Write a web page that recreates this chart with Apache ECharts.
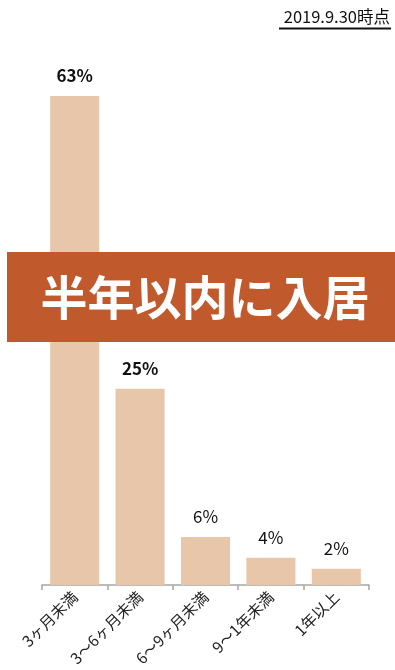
<!DOCTYPE html>
<html><head><meta charset="utf-8">
<script src="https://cdn.jsdelivr.net/npm/echarts@6/dist/echarts.min.js"></script>
<style>html,body{margin:0;padding:0;background:#fff;}#c{width:395px;height:670px;}</style>
</head><body><div id="c"></div>
<script>
const categories = ['3ヶ月未満', '3～6ヶ月未満', '6～9ヶ月未満', '9～1年未満', '1年以上'];
const values = [63, 25.3, 6.2, 3.5, 2.1];
const labelTexts = ['63%', '25%', '6%', '4%', '2%'];
const boldLabels = [true, true, false, false, false];
const bannerText = '半年以内に入居';
const dateText = '2019.9.30時点';

const font = '"Noto Sans CJK JP", "Noto Sans", sans-serif';
const chart = echarts.init(document.getElementById('c'));
chart.setOption({
  animation: false,
  textStyle: { fontFamily: font },
  grid: { left: 42, right: 26, top: 41.7, bottom: 85 },
  xAxis: {
    type: 'category',
    data: categories,
    axisLine: { lineStyle: { color: '#A6A6A6', width: 1.5 } },
    axisTick: { show: true, length: 5, lineStyle: { color: '#A6A6A6', width: 1.5 } },
    axisLabel: { rotate: 45, color: '#222', fontSize: 15.5, fontFamily: font, margin: 9, interval: 0 }
  },
  yAxis: { type: 'value', min: 0, max: 70, show: false, splitLine: { show: false } },
  series: [{
    type: 'bar',
    barCategoryGap: '25%',
    itemStyle: { color: '#E8C6AA' },
    data: values.map((v, i) => ({
      value: v,
      label: { fontWeight: boldLabels[i] ? 'bold' : 'normal' }
    })),
    label: {
      show: true, position: 'top', distance: 12,
      formatter: p => labelTexts[p.dataIndex], color: '#111', fontSize: 17, fontFamily: font
    }
  }],
  graphic: [
    { type: 'rect', shape: { x: 7, y: 252, width: 388, height: 90 }, style: { fill: '#C0592B' }, z: 100 },
    { type: 'text', x: 205, y: 297, z: 101,
      style: { text: bannerText, fill: '#fff', font: 'bold 47px ' + font, textAlign: 'center', textVerticalAlign: 'middle' } },
    { type: 'text', x: 390, y: 17, z: 101,
      style: { text: dateText, fill: '#111', font: '16.5px ' + font, textAlign: 'right', textVerticalAlign: 'middle' } },
    { type: 'line', z: 101, shape: { x1: 279, y1: 28.5, x2: 391, y2: 28.5 }, style: { stroke: '#111', lineWidth: 2 } }
  ]
});
</script></body></html>
